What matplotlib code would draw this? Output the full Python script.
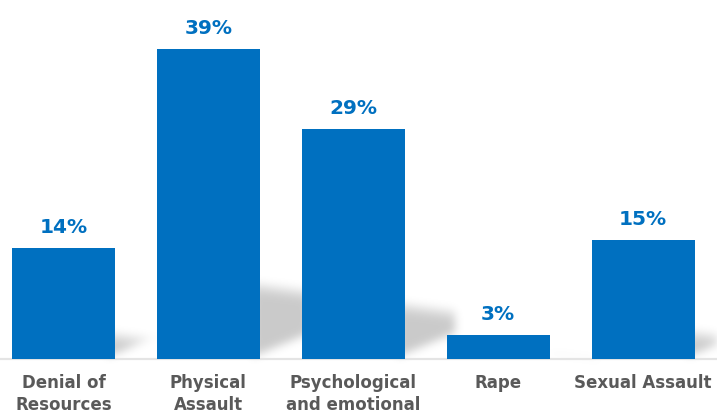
import numpy as np
import matplotlib.pyplot as plt
from matplotlib.path import Path

categories = ['Denial of\nResources', 'Physical\nAssault', 'Psychological\nand emotional',
              'Rape', 'Sexual Assault']
values = [14, 39, 29, 3, 15]
labels = ['14%', '39%', '29%', '3%', '15%']

blue = '#0070C0'
grey = '#595959'
W, H, DPI = 717, 412, 100

fig = plt.figure(figsize=(W / DPI, H / DPI), dpi=DPI)
ax = fig.add_axes([0, 0, 1, 1])
ax.set_xlim(-0.438, 4.51)
ax.set_ylim(-6.68, 45.2)
ax.axis('off')

x = np.arange(len(values))
bw = 0.71
bars = ax.bar(x, values, width=bw, color=blue, zorder=3)
ax.axhline(0, color='#e4e4e4', lw=1.6, zorder=1)

# soft diagonal shadows behind the bars
fig.canvas.draw()
yy, xx = np.mgrid[0:H, 0:W] + 0.5
pts = np.column_stack([xx.ravel(), yy.ravel()])
mask = np.zeros((H, W))
for b in bars:
    (x0, y0), (x1, y1) = ax.transData.transform([(b.get_x(), 0), (b.get_x() + b.get_width(), b.get_height())])
    h = (y1 - y0) * 0.25
    poly = [(x1 - 8, y0 + 2), (x1 + 50, y0 + 26), (x1 + 50, y0 + h - 8), (x1 - 8, y0 + h)]
    inside = Path(poly).contains_points(pts).reshape(H, W).astype(float)
    # fade toward the top edge of each shadow
    top = y0 + h - 8 * (xx - x1) / 58
    ramp = np.clip((top - yy) / 16 + 0.2, 0, 1)
    mask = np.maximum(mask, inside * ramp)
k = np.exp(-0.5 * (np.arange(-15, 16) / 4.5) ** 2)
k /= k.sum()
mask = np.apply_along_axis(lambda r: np.convolve(r, k, mode='same'), 1, mask)
mask = np.apply_along_axis(lambda c: np.convolve(c, k, mode='same'), 0, mask)
rgba = np.zeros((H, W, 4))
rgba[..., 3] = mask * 0.21
ax.imshow(rgba, origin='lower', extent=(*ax.get_xlim(), *ax.get_ylim()),
          aspect='auto', zorder=0, interpolation='bilinear')

for xi, v, lab in zip(x, values, labels):
    ax.text(xi, v + 1.4, lab, ha='center', va='bottom', color=blue,
            fontsize=14.5, fontweight='bold', family='DejaVu Sans')

for xi, c in zip(x, categories):
    ax.text(xi, -1.95, c, ha='center', va='top', color=grey, fontsize=12,
            fontweight='bold', family='DejaVu Sans', linespacing=1.25)

fig.savefig('out.png', dpi=DPI)
